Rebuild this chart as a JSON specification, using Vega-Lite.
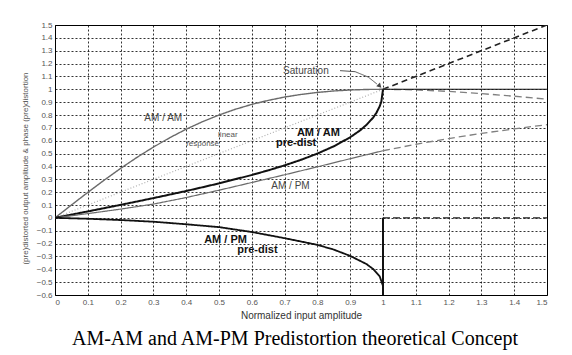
{
  "$schema": "https://vega.github.io/schema/vega-lite/v6.json",
  "width": 492,
  "height": 270,
  "autosize": "none",
  "padding": {"left": 55, "top": 25, "right": 25, "bottom": 60},
  "background": "white",
  "config": {
    "view": {"stroke": "black", "strokeWidth": 1},
    "font": "Liberation Sans"
  },
  "title": {
    "text": "AM-AM and AM-PM Predistortion theoretical Concept",
    "orient": "bottom",
    "font": "Liberation Serif",
    "fontSize": 20,
    "fontWeight": "normal",
    "color": "black",
    "offset": 9,
    "dx": -6
  },
  "datasets": {
    "curves": [
      {"s": "lin", "x": 0, "y": 0}, {"s": "lin", "x": 1, "y": 1},
      {"s": "lin_ext", "x": 1, "y": 1}, {"s": "lin_ext", "x": 1.5, "y": 1.5},
      {"s": "amam", "x": 0, "y": 0}, {"s": "amam", "x": 0.05, "y": 0.0998}, {"s": "amam", "x": 0.1, "y": 0.198},
      {"s": "amam", "x": 0.15, "y": 0.2934}, {"s": "amam", "x": 0.2, "y": 0.3846}, {"s": "amam", "x": 0.25, "y": 0.4706},
      {"s": "amam", "x": 0.3, "y": 0.5505}, {"s": "amam", "x": 0.35, "y": 0.6236}, {"s": "amam", "x": 0.4, "y": 0.6897},
      {"s": "amam", "x": 0.45, "y": 0.7484}, {"s": "amam", "x": 0.5, "y": 0.8}, {"s": "amam", "x": 0.55, "y": 0.8447},
      {"s": "amam", "x": 0.6, "y": 0.8824}, {"s": "amam", "x": 0.65, "y": 0.9136}, {"s": "amam", "x": 0.7, "y": 0.9396},
      {"s": "amam", "x": 0.75, "y": 0.96}, {"s": "amam", "x": 0.8, "y": 0.9756}, {"s": "amam", "x": 0.85, "y": 0.987},
      {"s": "amam", "x": 0.9, "y": 0.9945}, {"s": "amam", "x": 0.95, "y": 0.9987}, {"s": "amam", "x": 1, "y": 1},
      {"s": "amam_ext", "x": 1, "y": 1}, {"s": "amam_ext", "x": 1.1, "y": 0.9955}, {"s": "amam_ext", "x": 1.2, "y": 0.9836},
      {"s": "amam_ext", "x": 1.3, "y": 0.9665}, {"s": "amam_ext", "x": 1.4, "y": 0.9459}, {"s": "amam_ext", "x": 1.5, "y": 0.9231},
      {"s": "amam_pd", "x": 0, "y": 0}, {"s": "amam_pd", "x": 0.1, "y": 0.0501}, {"s": "amam_pd", "x": 0.2, "y": 0.101},
      {"s": "amam_pd", "x": 0.3, "y": 0.1536}, {"s": "amam_pd", "x": 0.4, "y": 0.2087}, {"s": "amam_pd", "x": 0.5, "y": 0.268},
      {"s": "amam_pd", "x": 0.6, "y": 0.3333}, {"s": "amam_pd", "x": 0.65, "y": 0.3694}, {"s": "amam_pd", "x": 0.7, "y": 0.4082},
      {"s": "amam_pd", "x": 0.75, "y": 0.4514}, {"s": "amam_pd", "x": 0.8, "y": 0.5}, {"s": "amam_pd", "x": 0.85, "y": 0.5567},
      {"s": "amam_pd", "x": 0.9, "y": 0.6268}, {"s": "amam_pd", "x": 0.93, "y": 0.68}, {"s": "amam_pd", "x": 0.95, "y": 0.724},
      {"s": "amam_pd", "x": 0.97, "y": 0.78}, {"s": "amam_pd", "x": 0.98, "y": 0.8173}, {"s": "amam_pd", "x": 0.99, "y": 0.868},
      {"s": "amam_pd", "x": 0.995, "y": 0.9046}, {"s": "amam_pd", "x": 1, "y": 1},
      {"s": "sat", "x": 1, "y": 1}, {"s": "sat", "x": 1.5, "y": 1},
      {"s": "ampm", "x": 0, "y": 0}, {"s": "ampm", "x": 0.1, "y": 0.033}, {"s": "ampm", "x": 0.2, "y": 0.068},
      {"s": "ampm", "x": 0.3, "y": 0.107}, {"s": "ampm", "x": 0.4, "y": 0.158}, {"s": "ampm", "x": 0.5, "y": 0.215},
      {"s": "ampm", "x": 0.6, "y": 0.275}, {"s": "ampm", "x": 0.7, "y": 0.335}, {"s": "ampm", "x": 0.8, "y": 0.397},
      {"s": "ampm", "x": 0.9, "y": 0.46}, {"s": "ampm", "x": 1, "y": 0.522},
      {"s": "ampm_ext", "x": 1, "y": 0.522}, {"s": "ampm_ext", "x": 1.1, "y": 0.572}, {"s": "ampm_ext", "x": 1.2, "y": 0.617},
      {"s": "ampm_ext", "x": 1.3, "y": 0.657}, {"s": "ampm_ext", "x": 1.4, "y": 0.692}, {"s": "ampm_ext", "x": 1.5, "y": 0.725},
      {"s": "ampm_pd", "x": 0, "y": 0}, {"s": "ampm_pd", "x": 0.1, "y": -0.007}, {"s": "ampm_pd", "x": 0.2, "y": -0.017},
      {"s": "ampm_pd", "x": 0.3, "y": -0.03}, {"s": "ampm_pd", "x": 0.4, "y": -0.05}, {"s": "ampm_pd", "x": 0.5, "y": -0.072},
      {"s": "ampm_pd", "x": 0.6, "y": -0.11}, {"s": "ampm_pd", "x": 0.7, "y": -0.158}, {"s": "ampm_pd", "x": 0.8, "y": -0.21},
      {"s": "ampm_pd", "x": 0.85, "y": -0.247}, {"s": "ampm_pd", "x": 0.9, "y": -0.296}, {"s": "ampm_pd", "x": 0.95, "y": -0.36},
      {"s": "ampm_pd", "x": 0.97, "y": -0.398}, {"s": "ampm_pd", "x": 0.99, "y": -0.455}, {"s": "ampm_pd", "x": 1, "y": -0.53},
      {"s": "vert", "x": 1, "y": -0.6}, {"s": "vert", "x": 1, "y": 0},
      {"s": "zero_ext", "x": 1, "y": 0}, {"s": "zero_ext", "x": 1.5, "y": 0},
      {"s": "arrow", "x": 0.869, "y": 1.145}, {"s": "arrow", "x": 0.915, "y": 1.137}, {"s": "arrow", "x": 0.955, "y": 1.095},
      {"s": "arrow", "x": 0.982, "y": 1.04}
    ],
    "labels": [
      {"g": "gray", "x": 0.33, "y": 0.775, "t": "AM / AM"},
      {"g": "gray", "x": 0.718, "y": 0.245, "t": "AM / PM"},
      {"g": "gray", "x": 0.765, "y": 1.142, "t": "Saturation"},
      {"g": "small", "x": 0.527, "y": 0.642, "t": "linear"},
      {"g": "small", "x": 0.45, "y": 0.572, "t": "response"},
      {"g": "black", "x": 0.803, "y": 0.66, "t": "AM / AM"},
      {"g": "black", "x": 0.735, "y": 0.58, "t": "pre-dist"},
      {"g": "black", "x": 0.52, "y": -0.17, "t": "AM / PM"},
      {"g": "black", "x": 0.617, "y": -0.252, "t": "pre-dist"}
    ],
    "head": [{"x": 0.99, "y": 1.025}]
  },
  "encoding": {
    "x": {
      "field": "x", "type": "quantitative",
      "scale": {"domain": [0, 1.5], "nice": false, "zero": false},
      "axis": {
        "values": [0, 0.1, 0.2, 0.3, 0.4, 0.5, 0.6, 0.7, 0.8, 0.9, 1, 1.1, 1.2, 1.3, 1.4, 1.5],
        "format": "~g",
        "title": "Normalized input amplitude",
        "titleFont": "Liberation Sans", "titleFontSize": 10, "titleFontWeight": "normal", "titleColor": "#333",
        "titlePadding": 4,
        "labelFont": "Liberation Sans", "labelFontSize": 8, "labelColor": "#555", "labelPadding": 3,
        "ticks": false, "domain": false,
        "grid": true, "gridColor": "black", "gridDash": [2, 2], "gridOpacity": 0.8, "gridWidth": 1
      }
    },
    "y": {
      "field": "y", "type": "quantitative",
      "scale": {"domain": [-0.6, 1.5], "nice": false, "zero": false},
      "axis": {
        "values": [-0.6, -0.5, -0.4, -0.3, -0.2, -0.1, 0, 0.1, 0.2, 0.3, 0.4, 0.5, 0.6, 0.7, 0.8, 0.9, 1, 1.1, 1.2, 1.3, 1.4, 1.5],
        "format": "~g",
        "title": "(pre)distorted output amplitude & phase (pre)distortion",
        "titleFont": "Liberation Sans", "titleFontSize": 8, "titleFontWeight": "normal", "titleColor": "#555",
        "titlePadding": 7,
        "titleY": 143,
        "labelFont": "Liberation Sans", "labelFontSize": 8, "labelColor": "#555", "labelPadding": 3,
        "ticks": false, "domain": false,
        "grid": true, "gridColor": "black", "gridDash": [2, 2], "gridOpacity": 0.8, "gridWidth": 1
      }
    }
  },
  "layer": [
    {
      "data": {"name": "curves"},
      "mark": {"type": "line", "strokeCap": "butt", "clip": true},
      "encoding": {
        "detail": {"field": "s"},
        "color": {
          "field": "s", "type": "nominal", "legend": null,
          "scale": {
            "type": "ordinal",
            "domain": ["lin", "lin_ext", "amam", "amam_ext", "amam_pd", "sat", "ampm", "ampm_ext", "ampm_pd", "vert", "zero_ext", "arrow"],
            "range": ["#b0b0b0", "#222222", "#6a6a6a", "#808080", "#111111", "#111111", "#6a6a6a", "#808080", "#111111", "#111111", "#222222", "#555555"]
          }
        },
        "strokeDash": {
          "field": "s", "type": "nominal", "legend": null,
          "scale": {
            "type": "ordinal",
            "domain": ["lin", "lin_ext", "amam", "amam_ext", "amam_pd", "sat", "ampm", "ampm_ext", "ampm_pd", "vert", "zero_ext", "arrow"],
            "range": [[1, 2], [6, 4], [1, 0], [7, 4], [1, 0], [1, 0], [1, 0], [7, 4], [1, 0], [1, 0], [7, 3], [1, 0]]
          }
        },
        "strokeWidth": {
          "field": "s", "type": "nominal", "legend": null,
          "scale": {
            "type": "ordinal",
            "domain": ["lin", "lin_ext", "amam", "amam_ext", "amam_pd", "sat", "ampm", "ampm_ext", "ampm_pd", "vert", "zero_ext", "arrow"],
            "range": [1.2, 1.6, 1.4, 1.4, 2, 1.1, 1.2, 1.3, 1.8, 2, 1.3, 1]
          }
        }
      }
    },
    {
      "data": {"name": "head"},
      "mark": {"type": "point", "shape": "triangle-right", "angle": 45, "size": 28, "filled": true, "color": "#444", "opacity": 1}
    },
    {
      "data": {"name": "labels"},
      "transform": [{"filter": "datum.g === 'gray'"}],
      "mark": {"type": "text", "font": "Liberation Sans", "fontSize": 10, "color": "#444"},
      "encoding": {"text": {"field": "t"}}
    },
    {
      "data": {"name": "labels"},
      "transform": [{"filter": "datum.g === 'small'"}],
      "mark": {"type": "text", "font": "Liberation Sans", "fontSize": 8, "color": "#555"},
      "encoding": {"text": {"field": "t"}}
    },
    {
      "data": {"name": "labels"},
      "transform": [{"filter": "datum.g === 'black'"}],
      "mark": {"type": "text", "font": "Liberation Sans", "fontSize": 11, "fontWeight": "bold", "color": "#111"},
      "encoding": {"text": {"field": "t"}}
    }
  ]
}
